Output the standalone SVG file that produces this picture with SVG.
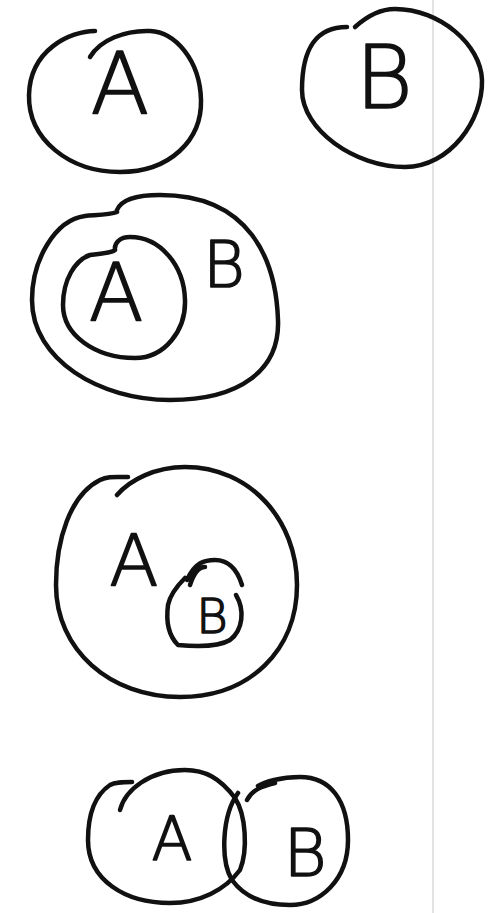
<svg xmlns="http://www.w3.org/2000/svg" width="493" height="913" viewBox="0 0 493 913">
<style>
.s{fill:none;stroke:#111;stroke-width:4.5;stroke-linecap:round;stroke-linejoin:round}
.t{font-family:"DejaVu Sans","Liberation Sans",sans-serif;font-weight:200;fill:#111;stroke:#111;stroke-width:1.6;stroke-linejoin:round;text-anchor:middle}
</style>
<rect width="493" height="913" fill="#fff"/>
<line x1="433" y1="0" x2="433" y2="913" stroke="#c8c8c8" stroke-width="1"/>
<g id="set-a-1">
<path class="s" d="M95,31 C70,31 30,50 29,95 C28,140 70,172 120,172 C170,172 202,140 201,100 C200,60 175,32 150,31 C125,30 100,40 90,57"/>
<text class="t" x="120" y="114" font-size="86">A</text>
</g>
<g id="set-b-1">
<path class="s" d="M347,27 C315,27 302,50 302,90 C302,130 355,167 405,167 C450,167 483,120 482,80 C481,45 440,9 395,9 C378,9 365,18 355,27"/>
<text class="t" x="384" y="108" font-size="88">B</text>
</g>
<g id="set-b-2">
<path class="s" d="M117,212 C110,215 95,215 85,216 C55,220 32,260 32,300 C32,360 100,400 170,400 C240,400 280,370 278,320 C276,260 250,195 160,195 C140,195 122,198 117,210"/>
<text class="t" x="224" y="287" font-size="64">B</text>
</g>
<g id="set-a-2">
<path class="s" d="M115,250 C110,254 100,253 90,255 C75,260 63,280 63,305 C63,335 95,358 135,358 C165,358 186,330 185,300 C184,265 160,237 130,237 C120,237 114,243 115,250"/>
<text class="t" x="116" y="320" font-size="80">A</text>
</g>
<g id="set-a-3">
<path class="s" d="M128,477 C115,477 108,476 100,480 C70,495 56,540 56,585 C56,650 110,697 180,697 C250,697 297,650 297,585 C297,520 250,467 185,467 C155,467 130,480 117,495"/>
<text class="t" x="134" y="585" font-size="72">A</text>
</g>
<g id="set-b-3">
<path class="s" d="M190,585 C195,570 200,567 205,567 M187,580 C195,562 205,560 215,560 C230,560 238,572 242,585 M236,595 C245,610 243,630 230,640 C220,646 200,647 178,645 C168,635 166,620 168,605 C170,595 178,585 185,578"/>
<text class="t" x="212" y="633" font-size="48">B</text>
</g>
<g id="set-a-4">
<path class="s" d="M132,782 C122,782 115,782 110,785 C95,795 88,815 88,840 C88,880 125,903 170,903 C200,903 225,890 240,870 C248,850 246,815 235,798 C220,778 205,770 185,770 C150,770 125,790 120,810"/>
<text class="t" x="172" y="860" font-size="60">A</text>
</g>
<g id="set-b-4">
<path class="s" d="M247,800 C252,790 262,786 275,783 M238,793 C222,815 220,860 232,880 C245,898 265,905 290,905 C320,905 348,880 348,840 C348,800 330,777 300,777 C280,777 265,782 258,786"/>
<text class="t" x="305" y="876" font-size="66">B</text>
</g>
<g id="connectors"></g>
</svg>
